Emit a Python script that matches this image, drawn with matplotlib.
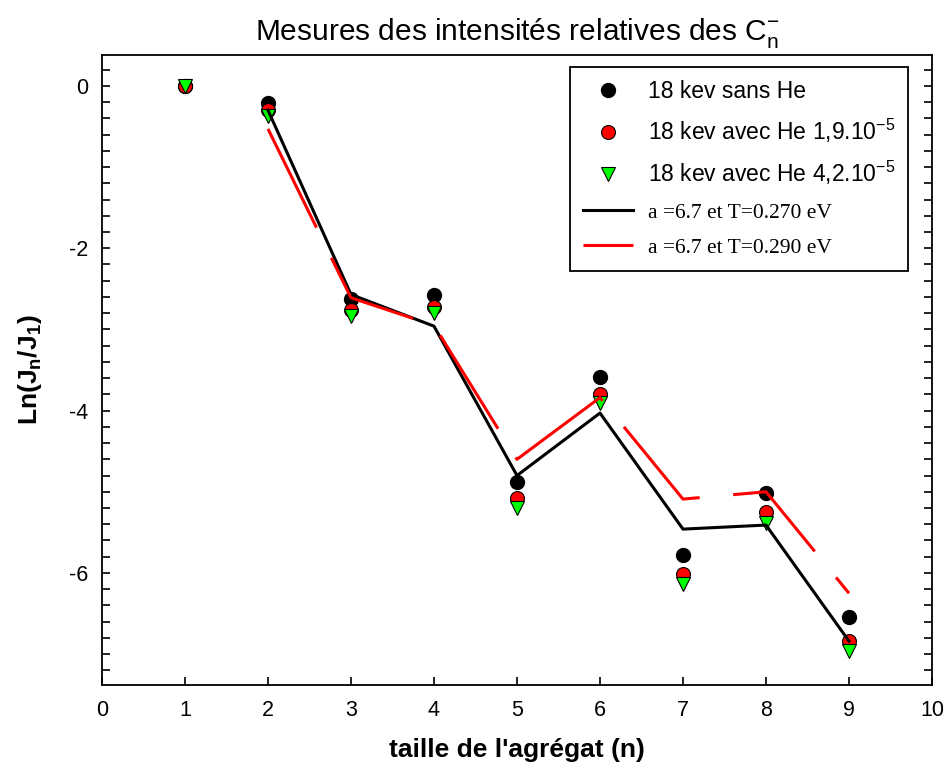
import matplotlib
matplotlib.use('Agg')
import matplotlib.pyplot as plt
from matplotlib.ticker import MultipleLocator

plt.rcParams['font.family'] = ['Liberation Sans', 'DejaVu Sans']
plt.rcParams['mathtext.fontset'] = 'custom'
plt.rcParams['mathtext.rm'] = 'Liberation Sans'
plt.rcParams['mathtext.it'] = 'Liberation Sans'
plt.rcParams['mathtext.bf'] = 'Liberation Sans:bold'
plt.rcParams['axes.unicode_minus'] = False

########
# data
n_points = [1, 2, 3, 4, 5, 6, 7, 8, 9]
sans_he = [0.0, -0.21, -2.63, -2.57, -4.88, -3.59, -5.78, -5.02, -6.54]
he_19 = [0.0, -0.30, -2.76, -2.72, -5.08, -3.79, -6.01, -5.25, -6.84]
he_42 = [0.0, -0.37, -2.84, -2.80, -5.20, -3.91, -6.14, -5.38, -6.96]

n_fit = [2, 3, 4, 5, 6, 7, 8, 9]
fit_270 = [-0.30, -2.57, -2.96, -4.80, -4.03, -5.46, -5.41, -6.84]
fit_290 = [-0.53, -2.61, -2.95, -4.60, -3.84, -5.09, -5.00, -6.25]

labels = ['18 kev sans He',
          '18 kev avec He 1,9.10$^{\\mathrm{-5}}$',
          '18 kev avec He 4,2.10$^{\\mathrm{-5}}$',
          'a =6.7 et T=0.270 eV',
          'a =6.7 et T=0.290 eV']
########

fig = plt.figure(figsize=(9.46, 7.74), dpi=100)
ax = fig.add_axes([0.1078, 0.115, 0.8774, 0.8139])

ax.plot(n_points, sans_he, 'o', color='black', mec='black', ms=10, label=labels[0], zorder=2)
ax.plot(n_points, he_19, 'o', color='red', mec='black', mew=0.8, ms=10, label=labels[1], zorder=2)
ax.plot(n_points, he_42, 'v', color='#00ff00', mec='black', mew=0.8, ms=10, label=labels[2], zorder=2)
ax.plot(n_fit, fit_270, '-', color='black', lw=2.2, label=labels[3], zorder=3)
ax.plot(n_fit, fit_290, color='red', lw=2.2, linestyle=(0, (36, 11)), label=labels[4], zorder=4)

ax.set_xlim(0, 10)
ax.set_ylim(-7.38, 0.38)
ax.xaxis.set_major_locator(MultipleLocator(1))
ax.yaxis.set_major_locator(MultipleLocator(2))
ax.yaxis.set_minor_locator(MultipleLocator(0.2))
ax.tick_params(axis='both', which='both', direction='in', labelsize=15.5, width=1.2)
ax.tick_params(axis='y', which='both', right=True, length=6, pad=10)
ax.tick_params(axis='x', which='major', length=6, pad=11)
for s in ax.spines.values():
    s.set_linewidth(1.3)

ax.set_title('Mesures des intensités relatives des C$_\\mathrm{n}^{\\mathrm{-}}$', fontsize=21.5, pad=11)
ax.set_xlabel("taille de l'agrégat (n)", fontsize=19, fontweight='bold', labelpad=12)
ax.set_ylabel('Ln(J$_\\mathbf{n}$/J$_\\mathbf{1}$)', fontsize=19, fontweight='bold', labelpad=18)

leg = ax.legend(loc='upper right', bbox_to_anchor=(0.971, 0.981), borderaxespad=0,
                fontsize=16.5, fancybox=False, framealpha=1, edgecolor='black',
                handlelength=2.2, handletextpad=0.65, labelspacing=0.62,
                borderpad=0.55)
leg.get_frame().set_linewidth(1.3)
for t in leg.get_texts()[3:]:
    t.set_fontfamily('Liberation Serif')
    t.set_fontsize(15.5)

plt.savefig('out.png', dpi=100)
